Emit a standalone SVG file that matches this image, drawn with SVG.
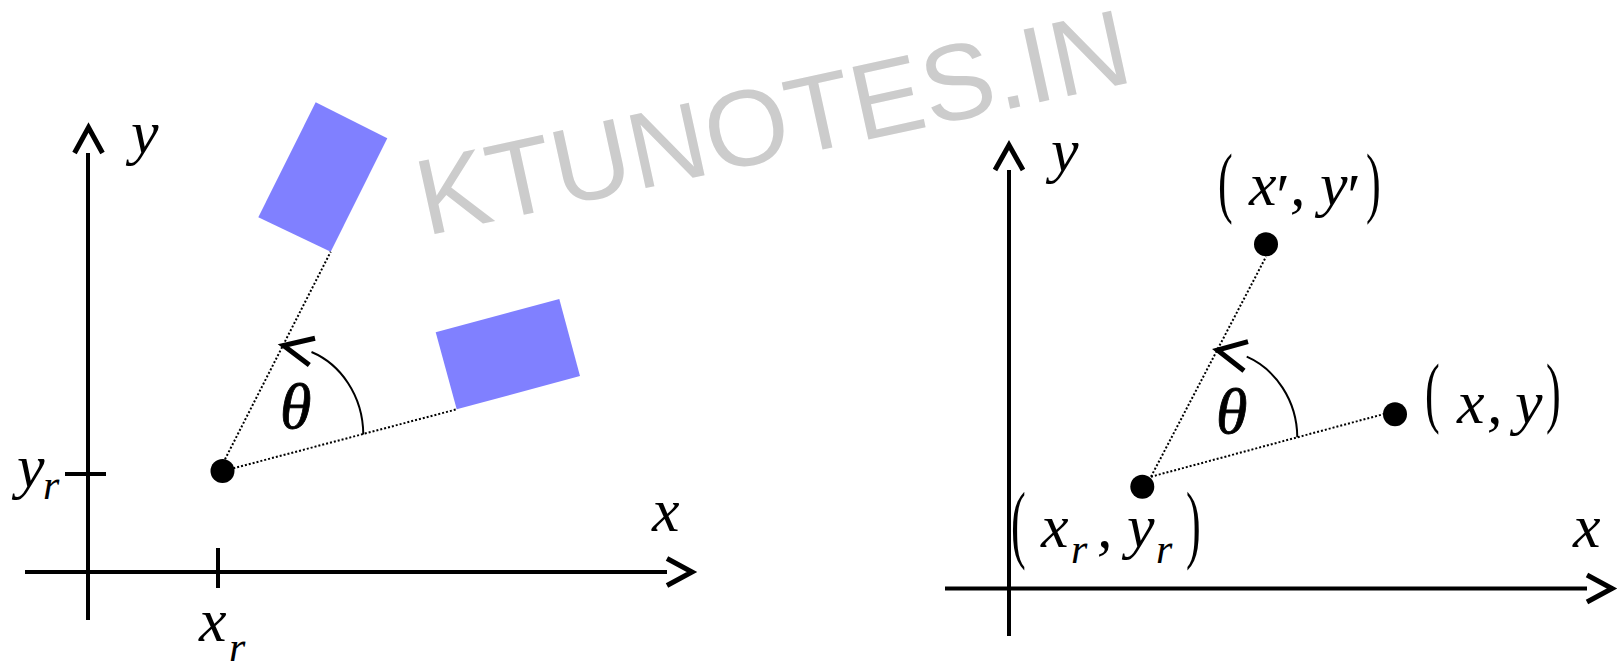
<svg xmlns="http://www.w3.org/2000/svg" width="1623" height="661" viewBox="0 0 1623 661">
<style>
.ax{stroke:#000;stroke-width:4;fill:none}
.hd{stroke:#000;stroke-width:5;fill:none;stroke-linecap:butt;stroke-linejoin:miter}
.dot{stroke:#000;stroke-width:2;stroke-dasharray:2 2;fill:none}
.arc{stroke:#000;stroke-width:2;fill:none}
.pt{fill:#000}
.box{fill:#8080ff}
.v{font-family:"Liberation Serif","Times New Roman",serif;font-style:italic;font-size:62px;fill:#000}
.t{font-family:"Liberation Serif","Times New Roman",serif;font-style:italic;font-size:64px;fill:#000;stroke:#000;stroke-width:0.8}
.s{font-family:"Liberation Serif","Times New Roman",serif;font-style:italic;font-size:42px;fill:#000}
.p{font-family:"Liberation Serif","Times New Roman",serif;font-size:52px;fill:#000}
.wm{font-family:"Liberation Sans",Arial,sans-serif;font-size:108px;fill:#cccccc}
</style>
<rect width="1623" height="661" fill="#fff"/>
<g id="left-axes">
<line class="ax" x1="88" y1="153" x2="88" y2="620"/>
<polyline class="hd" points="74.5,153 88.5,127.5 102.5,153"/>
<line class="ax" x1="25" y1="572" x2="667" y2="572"/>
<polyline class="hd" points="667,558.5 692,572 667,585.5"/>
<line class="ax" x1="65" y1="474" x2="106" y2="474"/>
<line class="ax" x1="218" y1="548" x2="218" y2="588"/>
</g>
<g id="left-boxes">
<polygon class="box" points="315.7,102.3 387.3,138.3 330.7,251.7 258.3,217.3"/>
<polygon class="box" points="435.7,332.3 559.3,299 580,376 456.7,409.3"/>
</g>
<g id="connectors">
<line class="dot" x1="225" y1="459.3" x2="330.7" y2="251.7"/>
<line class="dot" x1="233.3" y1="468.3" x2="456.7" y2="409.3"/>
<path class="arc" d="M311.5,352 C340,364 363,395 363.3,434.5"/>
<polyline class="hd" points="315,338.3 283.5,345.5 309.3,365"/>
<line class="dot" x1="1151" y1="476.7" x2="1266" y2="256.7"/>
<line class="dot" x1="1151" y1="476.7" x2="1384" y2="414"/>
<path class="arc" d="M1246.7,356.7 C1275,369 1297,400 1297.3,437.3"/>
<polyline class="hd" points="1248,341.7 1217.5,350 1244,370.7"/>
</g>
<g id="left-pivot"><circle class="pt" cx="222.5" cy="471" r="12"/></g>
<g id="left-labels">
<text class="v" x="131" y="153">y</text>
<text class="v" x="17" y="487">y</text><text class="s" x="43" y="499">r</text>
<text class="v" x="199" y="641">x</text><text class="s" x="229" y="661">r</text>
<text class="v" x="652" y="531">x</text>
<text class="t" x="280" y="428">θ</text>
</g>
<g id="right-axes">
<line class="ax" x1="1009" y1="170" x2="1009" y2="636"/>
<polyline class="hd" points="995,170 1009,145 1023,170"/>
<line class="ax" x1="945" y1="588.5" x2="1587" y2="588.5"/>
<polyline class="hd" points="1587,575 1612,588.5 1587,602"/>
</g>
<g id="pivot-r">
<circle class="pt" cx="1142.3" cy="486.7" r="12"/>
<text class="p" transform="translate(1011,552) scale(0.85,1.667)">(</text>
<text class="v" x="1041" y="547">x</text>
<text class="s" x="1071" y="563">r</text>
<text class="v" x="1097" y="547">,</text>
<text class="v" x="1127" y="547">y</text>
<text class="s" x="1156" y="563">r</text>
<text class="p" transform="translate(1186,552) scale(0.85,1.667)">)</text>
</g>
<g id="point-xy">
<circle class="pt" cx="1395" cy="414.3" r="12"/>
<text class="p" transform="translate(1425,418) scale(0.85,1.5)">(</text>
<text class="v" x="1457" y="423">x</text>
<text class="v" x="1487" y="423">,</text>
<text class="v" x="1515" y="423">y</text>
<text class="p" transform="translate(1546,418) scale(0.85,1.5)">)</text>
</g>
<g id="point-xy-prime">
<circle class="pt" cx="1266" cy="244.3" r="12"/>
<text class="p" transform="translate(1218,208) scale(0.85,1.5)">(</text>
<text class="v" x="1249" y="205">x<tspan dx="-4" dy="11">′</tspan></text>
<text class="v" x="1290" y="205">,</text>
<text class="v" x="1320" y="205">y<tspan dx="-4" dy="11">′</tspan></text>
<text class="p" transform="translate(1366,208) scale(0.85,1.5)">)</text>
</g>
<g id="right-labels">
<text class="v" x="1051" y="171">y</text>
<text class="v" x="1573" y="547">x</text>
<text class="t" x="1216" y="433">θ</text>
</g>
<g id="watermark">
<text class="wm" x="426" y="236" transform="rotate(-12.3 426 236)">KTUNOTES.IN</text>
</g>
</svg>
